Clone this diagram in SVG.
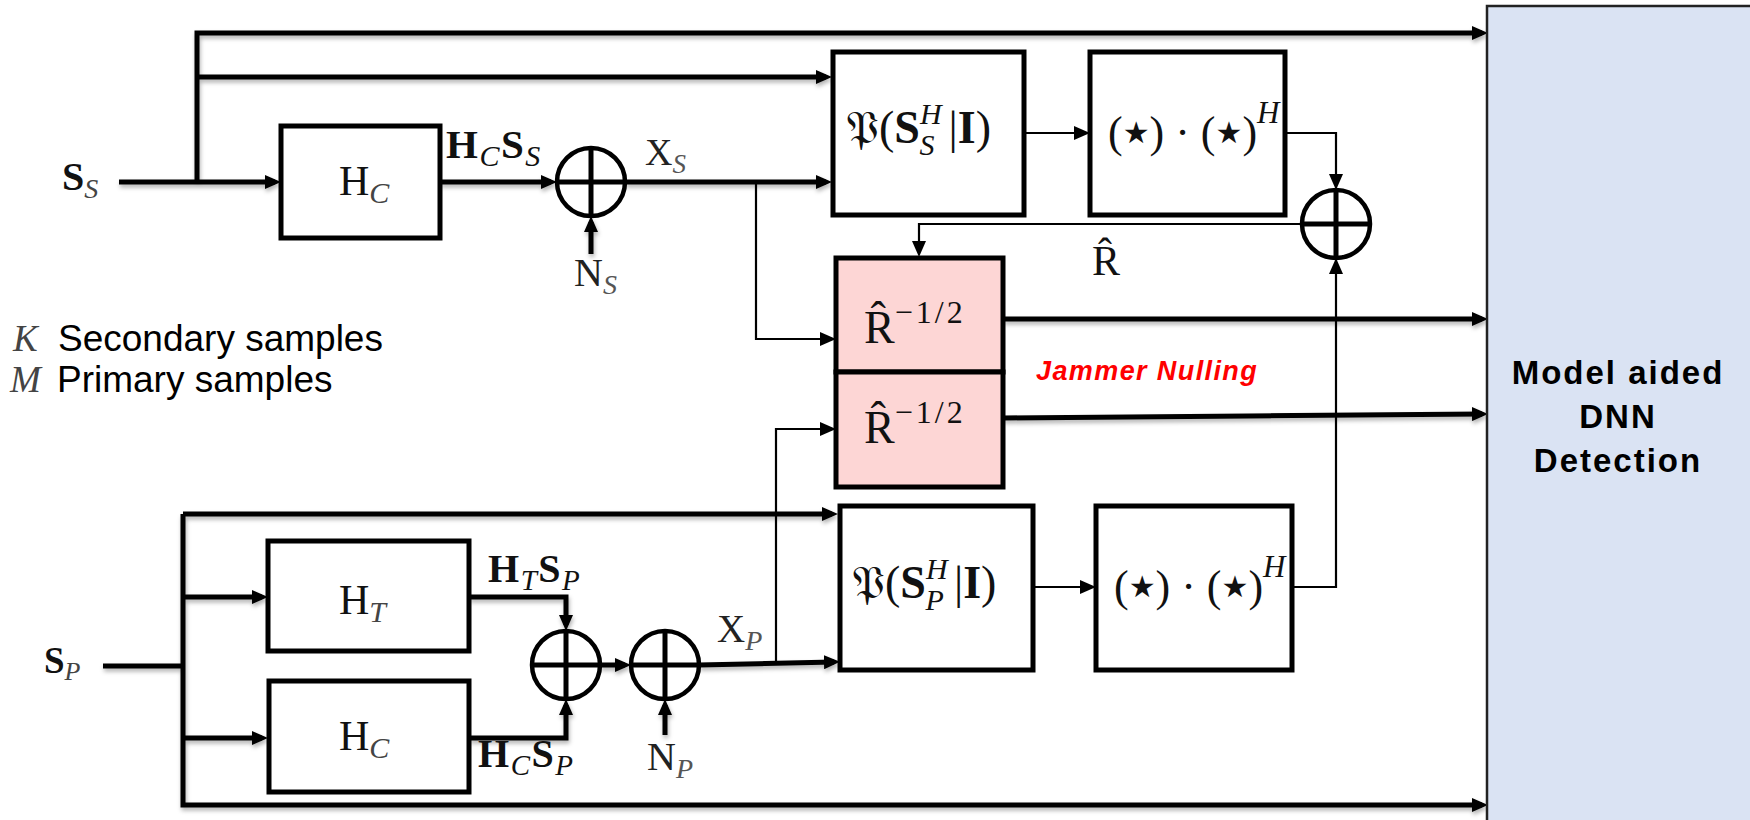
<svg xmlns="http://www.w3.org/2000/svg" width="1750" height="820" viewBox="0 0 1750 820">
<defs>
<marker id="ah" markerUnits="userSpaceOnUse" markerWidth="16" markerHeight="14" refX="10" refY="7" orient="auto">
<path d="M0,0 L16,7 L0,14 z" fill="#000"/>
</marker>
<filter id="sh" x="-5%" y="-5%" width="110%" height="120%">
<feDropShadow dx="1" dy="3" stdDeviation="2" flood-color="#000" flood-opacity="0.3"/>
</filter>
</defs>
<style>
.thick{stroke:#000;stroke-width:5;fill:none}
.thin{stroke:#000;stroke-width:2.2;fill:none}
.box{fill:#fff;stroke:#000;stroke-width:5}
.pink{fill:#fdd6d5;stroke:#000;stroke-width:5}
.sum{fill:#fff;stroke:#000;stroke-width:4.5}
.m{font-family:"Liberation Serif","DejaVu Serif",serif}
.b{font-weight:bold}
.i{font-style:italic;font-weight:normal}
.s{font-family:"Liberation Sans",Arial,sans-serif}
.st{font-family:"DejaVu Sans",sans-serif;font-style:normal;font-weight:normal}
</style>
<rect width="1750" height="820" fill="#fff"/>

<g id="connectors">
<g filter="url(#sh)">
<path class="thick" d="M119,182 H275" marker-end="url(#ah)"/>
<path class="thick" d="M197,182 V33 H1482" marker-end="url(#ah)"/>
<path class="thick" d="M197,77 H826" marker-end="url(#ah)"/>
<path class="thick" d="M440,182 H551" marker-end="url(#ah)"/>
<path class="thick" d="M591,254 V222" marker-end="url(#ah)"/>
<path class="thick" d="M625,182 H826" marker-end="url(#ah)"/>
<path class="thick" d="M1003,319 H1482" marker-end="url(#ah)"/>
<path class="thick" d="M1003,418 L1482,414" marker-end="url(#ah)"/>
<path class="thick" d="M103,666 H183"/>
<path class="thick" d="M183,514 H832" marker-end="url(#ah)"/>
<path class="thick" d="M183,514 V805 H1482" marker-end="url(#ah)"/>
<path class="thick" d="M183,597 H262" marker-end="url(#ah)"/>
<path class="thick" d="M183,738 H262" marker-end="url(#ah)"/>
<path class="thick" d="M469,597 H566 V625" marker-end="url(#ah)"/>
<path class="thick" d="M469,738 H566 V705" marker-end="url(#ah)"/>
<path class="thick" d="M600,665 H625" marker-end="url(#ah)"/>
<path class="thick" d="M665,735 V705" marker-end="url(#ah)"/>
<path class="thick" d="M699,665 L834,662" marker-end="url(#ah)"/>
</g>
<path class="thin" d="M756,182 V339 H830" marker-end="url(#ah)"/>
<path class="thin" d="M1024,133 H1084" marker-end="url(#ah)"/>
<path class="thin" d="M1285,133 H1336 V184" marker-end="url(#ah)"/>
<path class="thin" d="M1302,224 H919 V251" marker-end="url(#ah)"/>
<path class="thin" d="M776,664 V429 H830" marker-end="url(#ah)"/>
<path class="thin" d="M1033,587 H1090" marker-end="url(#ah)"/>
<path class="thin" d="M1292,587 H1336 V264" marker-end="url(#ah)"/>
</g>

<g id="dnn">
<rect x="1487" y="6" width="280" height="830" fill="#dae3f3" stroke="#222" stroke-width="2.5"/>
<text class="s b" font-size="33" letter-spacing="2" text-anchor="middle" fill="#000"><tspan x="1618" y="384">Model aided</tspan><tspan x="1618" y="428">DNN</tspan><tspan x="1618" y="472">Detection</tspan></text>
</g>

<g id="in-ss">
<text class="m b" x="62" y="190" font-size="40" fill="#111">S<tspan class="i" font-size="28" dy="8" fill="#444">S</tspan></text>
</g>

<g id="hc-top">
<rect class="box" x="281" y="126" width="159" height="112"/>
<text class="m" x="339" y="195" font-size="42" fill="#111">H<tspan class="i" font-size="30" dy="8" fill="#444">C</tspan></text>
<text class="m b" x="446" y="158" font-size="41" letter-spacing="1.5" fill="#111">H<tspan class="i" font-size="30" dy="8">C</tspan><tspan dy="-8">S</tspan><tspan class="i" font-size="30" dy="8">S</tspan></text>
</g>

<g id="sum-s">
<circle class="sum" cx="591" cy="182" r="34"/>
<path class="thick" d="M557,182 H625 M591,148 V216" stroke-width="4"/>
<text class="m" x="574" y="286" font-size="40" fill="#222">N<tspan class="i" font-size="28" dy="8" fill="#555">S</tspan></text>
<text class="m" x="645" y="165" font-size="38" fill="#222">X<tspan class="i" font-size="27" dy="8" fill="#555">S</tspan></text>
</g>

<g id="proj-s">
<rect class="box" x="833" y="52" width="191" height="163"/>
<text class="m" x="846" y="143" font-size="46" fill="#111">𝔓(<tspan class="b">S</tspan><tspan class="i" font-size="30" dy="-19">H</tspan><tspan class="i" font-size="30" dx="-22" dy="31">S</tspan><tspan dx="14" dy="-12">|</tspan><tspan class="b">I</tspan>)</text>
</g>

<g id="outer-s">
<rect class="box" x="1090" y="52" width="195" height="163"/>
<text class="m" x="1108" y="147" font-size="44" fill="#111">(<tspan class="st" font-size="30" dy="-4">★</tspan><tspan dy="4">) · (</tspan><tspan class="st" font-size="30" dy="-4">★</tspan><tspan dy="4">)</tspan><tspan class="i" font-size="31" dy="-24">H</tspan></text>
</g>

<g id="sum-r">
<circle class="sum" cx="1336" cy="224" r="34"/>
<path class="thick" d="M1302,224 H1370 M1336,190 V258" stroke-width="4"/>
<text class="m" x="1092" y="275" font-size="42" fill="#111">R̂</text>
</g>

<g id="null-s">
<rect class="pink" x="836" y="258" width="167" height="114"/>
<text class="m" x="864" y="343" font-size="46" fill="#111">R̂<tspan font-size="32" dy="-20" letter-spacing="3">−1/2</tspan></text>
</g>

<g id="null-p">
<rect class="pink" x="836" y="372" width="167" height="115"/>
<text class="m" x="864" y="443" font-size="46" fill="#111">R̂<tspan font-size="32" dy="-20" letter-spacing="3">−1/2</tspan></text>
</g>

<g id="jammer-label">
<text class="s" x="1036" y="380" font-size="27" font-weight="bold" font-style="italic" letter-spacing="1.4" style="fill:#f00">Jammer Nulling</text>
</g>

<g id="legend">
<text x="13" y="351" font-size="37" fill="#000"><tspan class="m i" font-size="37" fill="#444">K</tspan><tspan class="s" x="58">Secondary samples</tspan></text>
<text x="10" y="392" font-size="37" fill="#000"><tspan class="m i" font-size="37" fill="#444">M</tspan><tspan class="s" x="57">Primary samples</tspan></text>
</g>

<g id="in-sp">
<text class="m b" x="44" y="673" font-size="37" fill="#111">S<tspan class="i" font-size="26" dy="7" fill="#444">P</tspan></text>
</g>

<g id="ht">
<rect class="box" x="268" y="541" width="201" height="110"/>
<text class="m" x="339" y="614" font-size="42" fill="#111">H<tspan class="i" font-size="30" dy="8" fill="#444">T</tspan></text>
<text class="m b" x="488" y="582" font-size="40" letter-spacing="1.5" fill="#111">H<tspan class="i" font-size="29" dy="8">T</tspan><tspan dy="-8">S</tspan><tspan class="i" font-size="29" dy="8">P</tspan></text>
</g>

<g id="hc-bot">
<rect class="box" x="269" y="681" width="200" height="111"/>
<text class="m" x="339" y="750" font-size="42" fill="#111">H<tspan class="i" font-size="30" dy="8" fill="#444">C</tspan></text>
<text class="m b" x="478" y="767" font-size="40" letter-spacing="1.5" fill="#111">H<tspan class="i" font-size="29" dy="8">C</tspan><tspan dy="-8">S</tspan><tspan class="i" font-size="29" dy="8">P</tspan></text>
</g>

<g id="sum-p1">
<circle class="sum" cx="566" cy="665" r="34"/>
<path class="thick" d="M532,665 H600 M566,631 V699" stroke-width="4"/>
</g>

<g id="sum-p2">
<circle class="sum" cx="665" cy="665" r="34"/>
<path class="thick" d="M631,665 H699 M665,631 V699" stroke-width="4"/>
<text class="m" x="647" y="770" font-size="40" fill="#222">N<tspan class="i" font-size="28" dy="8" fill="#555">P</tspan></text>
<text class="m" x="717" y="642" font-size="39" fill="#222">X<tspan class="i" font-size="28" dy="8" fill="#555">P</tspan></text>
</g>

<g id="proj-p">
<rect class="box" x="840" y="506" width="193" height="164"/>
<text class="m" x="852" y="598" font-size="46" fill="#111">𝔓(<tspan class="b">S</tspan><tspan class="i" font-size="30" dy="-19">H</tspan><tspan class="i" font-size="30" dx="-22" dy="31">P</tspan><tspan dx="10" dy="-12">|</tspan><tspan class="b">I</tspan>)</text>
</g>

<g id="outer-p">
<rect class="box" x="1096" y="506" width="196" height="164"/>
<text class="m" x="1114" y="601" font-size="44" fill="#111">(<tspan class="st" font-size="30" dy="-4">★</tspan><tspan dy="4">) · (</tspan><tspan class="st" font-size="30" dy="-4">★</tspan><tspan dy="4">)</tspan><tspan class="i" font-size="31" dy="-24">H</tspan></text>
</g>
</svg>
